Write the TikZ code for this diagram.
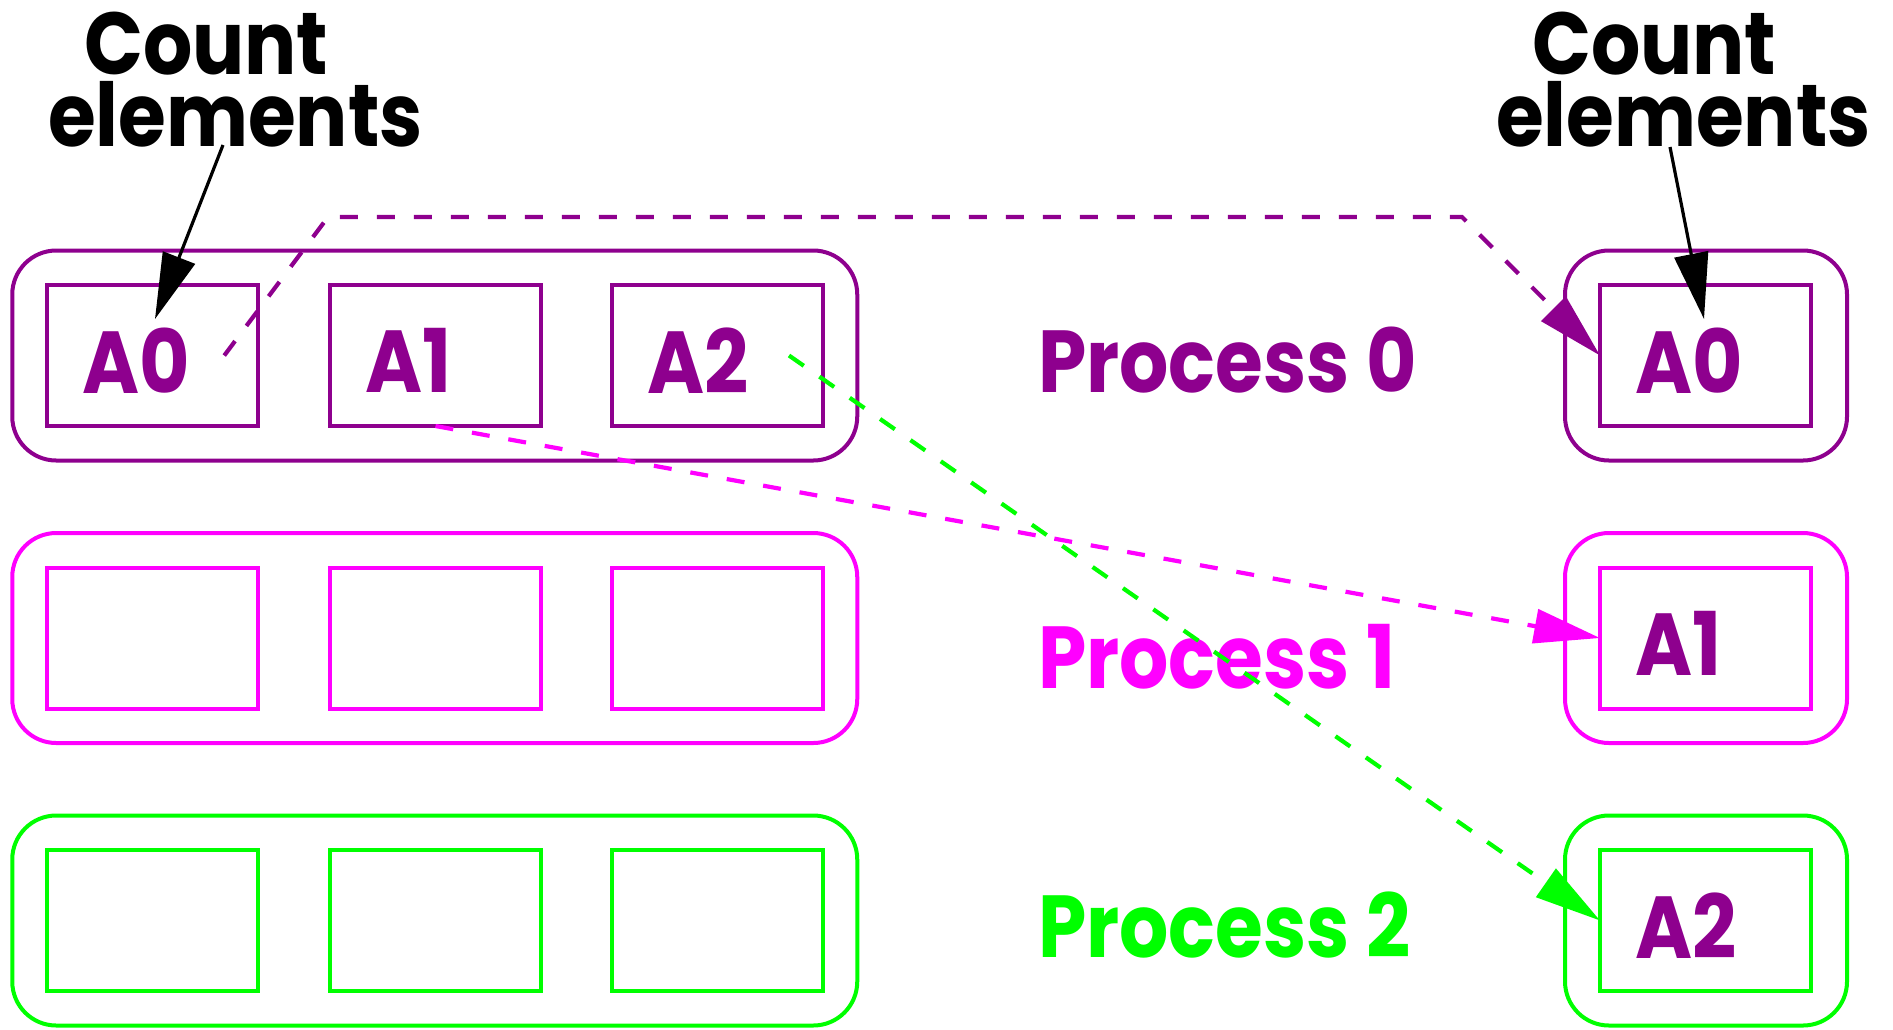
\documentclass[tikz,border=0pt]{standalone}
\usepackage{fontspec}
\usetikzlibrary{arrows.meta}
\newfontfamily\labfont{Poppins Bold}[FakeStretch=0.88]
\definecolor{procA}{RGB}{142,0,142}
\definecolor{procB}{RGB}{255,0,255}
\definecolor{procC}{RGB}{0,255,0}

\begin{document}
\begin{tikzpicture}[x=0.5pt,y=-0.5pt,
  every node/.style={inner sep=0pt,outer sep=0pt},
  bigrow/.style={draw=#1,line width=2pt,rounded corners=22pt,minimum width=422.5pt,minimum height=105pt},
  smallrow/.style={draw=#1,line width=2pt,rounded corners=22pt,minimum width=141pt,minimum height=105pt},
  cell/.style={draw=#1,line width=2pt,minimum width=105.5pt,minimum height=70.5pt},
  txt/.style={font=\labfont\fontsize{44}{50}\selectfont},
  cellname/.style={txt,text=procA,anchor=west},
  procname/.style={txt,text=#1,anchor=west},
  note/.style={font=\labfont\fontsize{44}{36}\selectfont,align=left,anchor=south west},
  pointer/.style={line width=1.6pt,-{Triangle[length=33pt,width=17pt]}},
  move/.style={draw=#1,line width=2.1pt,dash pattern=on 9pt off 9.5pt,-{Triangle[length=33pt,width=17pt]}}
]
\useasboundingbox (0,0) rectangle (1893,1029);

% send buffers (left) and receive buffers (right), one row per process
\node[bigrow=procA]   (row0) at (434.75,355.5) {};
\node[bigrow=procB]   (row1) at (434.75,638) {};
\node[bigrow=procC]   (row2) at (434.75,920.5) {};
\node[smallrow=procA] (rrow0) at (1706,355.5) {};
\node[smallrow=procB] (rrow1) at (1706,638) {};
\node[smallrow=procC] (rrow2) at (1706,920.5) {};

\foreach \r/\y/\c in {0/355.5/procA,1/638/procB,2/920.5/procC}{
  \node[cell=\c] (c\r a) at (152.75,\y) {};
  \node[cell=\c] (c\r b) at (435.5,\y) {};
  \node[cell=\c] (c\r c) at (717.5,\y) {};
  \node[cell=\c] (r\r)   at (1705.5,\y) {};
}

% element labels
\node[cellname] (l0a) at ([xshift=17.5pt,yshift=-2.5pt]c0a.west) {A0};
\node[cellname] (l0b) at ([xshift=17.5pt,yshift=-2.5pt]c0b.west) {A1};
\node[cellname] (l0c) at ([xshift=17.5pt,yshift=-2.5pt]c0c.west) {A2};
\node[cellname] (lr0) at ([xshift=17.5pt,yshift=-2.5pt]r0.west) {A0};
\node[cellname] (lr1) at ([xshift=17.5pt,yshift=-2.5pt]r1.west) {A1};
\node[cellname] (lr2) at ([xshift=17.5pt,yshift=-2.5pt]r2.west) {A2};

% process names
\node[procname=procA] (p0) at (1038,360) {Process 0};
\node[procname=procB] (p1) at (1038,657) {Process 1};
\node[procname=procC] (p2) at (1038,925) {Process 2};

% count annotations
\node[note] (cntL) at (48,147)   {\hspace*{18pt}Count\\elements};
\node[note] (cntR) at (1496,147) {\hspace*{18pt}Count\\elements};

\coordinate (fromL) at (223,145);
\coordinate (toL)   at (155,319);
\coordinate (fromR) at (1670,147);
\coordinate (toR)   at (1704,319);
\draw[pointer] (fromL) -- (toL);
\draw[pointer] (fromR) -- (toR);

% scatter moves
\coordinate (s0) at ([xshift=-17pt]c0a.east);
\coordinate (s2) at ([xshift=-17pt]c0c.east);
\coordinate (k1) at (328,217);
\coordinate (k2) at (1462,217);
\draw[move=procA] (s0) -- (k1) -- (k2) -- (r0.west);
\draw[move=procB] (c0b.south) -- (r1.west);
\draw[move=procC] (s2) -- (r2.west);
\end{tikzpicture}
\end{document}
